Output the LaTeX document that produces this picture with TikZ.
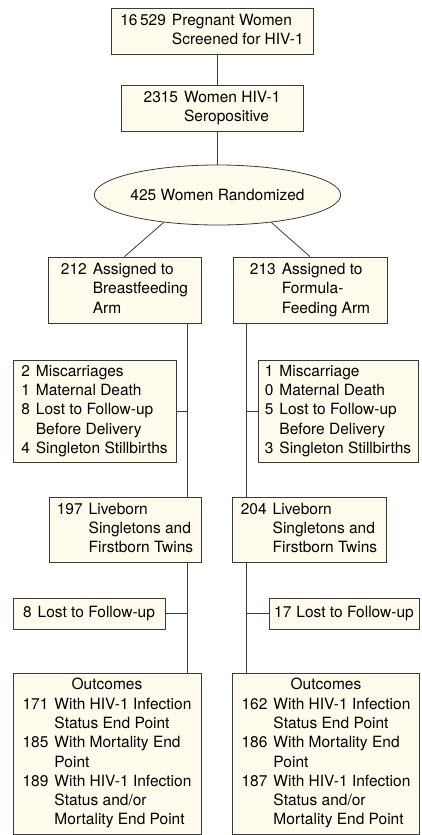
\documentclass[tikz,border=0pt]{standalone}
\usepackage{fontspec}
\setmainfont{TeX Gyre Heros}
\usetikzlibrary{shapes.geometric}
\definecolor{cream}{HTML}{FFFCEE}
\definecolor{edge}{HTML}{3A3A3A}
\newcommand{\txt}{\fontsize{15.5}{19.3}\selectfont}
\newcommand{\rows}[1]{\begin{tabular}{@{}l@{\hspace{6pt}}l@{}}#1\end{tabular}}
\tikzset{
  box/.style={draw=edge, fill=cream, line width=0.8pt, inner sep=0pt, align=center, font=\txt},
  conn/.style={draw=edge, line width=0.8pt},
}
\begin{document}
\begin{tikzpicture}[x=1pt,y=-1pt]
\useasboundingbox (0,0) rectangle (421,835);
% columns
\coordinate (axis) at (217,0);
\coordinate (L) at (187,0);
\coordinate (R) at (246,0);
% nodes
\node[box, minimum width=202pt, minimum height=46pt] (b1) at (212,31)
  {\rows{16\,529 & Pregnant Women\\ & Screened for HIV-1}};
\node[box, minimum width=182pt, minimum height=46pt] (b2) at (212,108)
  {\rows{2315 & Women HIV-1\\ & Seropositive}};
\node[box, ellipse, inner sep=0pt, minimum width=209pt, minimum height=60pt] (ell) at (217.5,195)
  {425 Women Randomized};
\node[box, minimum width=153pt, minimum height=66pt] (armL) at (124.5,290)
  {\rows{212 & Assigned to\\ & Breastfeeding\\ & Arm}};
\node[box, minimum width=154pt, minimum height=66pt] (armR) at (310,290)
  {\rows{213 & Assigned to\\ & Formula-\\ & Feeding Arm}};
\node[box, minimum width=163pt, minimum height=102pt] (exL) at (94.5,411)
  {\rows{2 & Miscarriages\\ 1 & Maternal Death\\ 8 & Lost to Follow-up\\ & Before Delivery\\ 4 & Singleton Stillbirths}};
\node[box, minimum width=160pt, minimum height=102pt] (exR) at (338,411)
  {\rows{1 & Miscarriage\\ 0 & Maternal Death\\ 5 & Lost to Follow-up\\ & Before Delivery\\ 3 & Singleton Stillbirths}};
\node[box, minimum width=152pt, minimum height=65pt] (liveL) at (125,529.5)
  {\rows{197 & Liveborn\\ & Singletons and\\ & Firstborn Twins}};
\node[box, minimum width=154pt, minimum height=65pt] (liveR) at (309,529.5)
  {\rows{204 & Liveborn\\ & Singletons and\\ & Firstborn Twins}};
\node[box, minimum width=152pt, minimum height=31pt] (lostL) at (89,613.5)
  {8\hspace{6pt}Lost to Follow-up};
\node[box, minimum width=150pt, minimum height=31pt] (lostR) at (344,613.5)
  {17\hspace{5pt}Lost to Follow-up};
\node[box, minimum width=188pt, minimum height=161pt] (outL) at (107,753.5)
  {\rows{\multicolumn{2}{c}{Outcomes}\\ 171 & With HIV-1 Infection\\ & Status End Point\\ 185 & With Mortality End\\ & Point\\ 189 & With HIV-1 Infection\\ & Status and/or\\ & Mortality End Point}};
\node[box, minimum width=187pt, minimum height=161pt] (outR) at (326,753.5)
  {\rows{\multicolumn{2}{c}{Outcomes}\\ 162 & With HIV-1 Infection\\ & Status End Point\\ 186 & With Mortality End\\ & Point\\ 187 & With HIV-1 Infection\\ & Status and/or\\ & Mortality End Point}};
% connectors
\draw[conn] (b1.south -| axis) -- (b2.north -| axis);
\draw[conn] (b2.south -| axis) -- (ell.north -| axis);
\draw[conn] (ell.207) -- (armL.north);
\draw[conn] (ell.-27) -- (armR.north);
\draw[conn] (armL.south -| L) -- (liveL.north -| L);
\draw[conn] (exL.east) -- (exL.east -| L);
\draw[conn] (liveL.south -| L) -- (outL.north -| L);
\draw[conn] (lostL.east) -- (lostL.east -| L);
\draw[conn] (armR.south -| R) -- (liveR.north -| R);
\draw[conn] (exR.west) -- (exR.west -| R);
\draw[conn] (liveR.south -| R) -- (outR.north -| R);
\draw[conn] (lostR.west) -- (lostR.west -| R);
\end{tikzpicture}
\end{document}
